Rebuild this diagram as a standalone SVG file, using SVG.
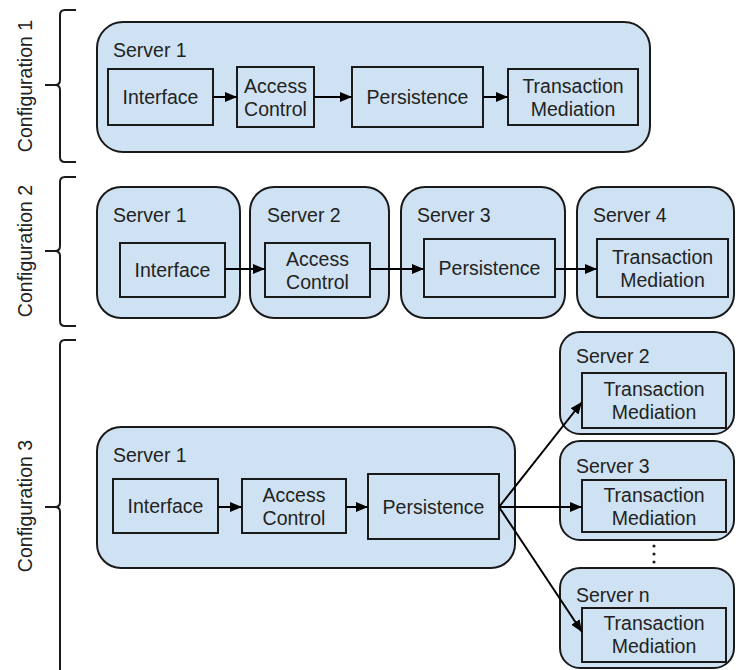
<svg xmlns="http://www.w3.org/2000/svg" width="736" height="670" viewBox="0 0 736 670">
  <style>
    .server { fill: #cfe2f3; stroke: #1a1a1a; stroke-width: 2; }
    .comp { fill: #cfe2f3; stroke: #1a1a1a; stroke-width: 2; }
    .brace { fill: none; stroke: #1a1a1a; stroke-width: 2; }
    .edge { fill: none; stroke: #000; stroke-width: 2; marker-end: url(#arrow); }
    text { font-family: "Liberation Sans", Arial, sans-serif; font-size: 19.5px; fill: #222; }
    .mid { text-anchor: middle; }
  </style>
  <defs>
    <marker id="arrow" markerUnits="userSpaceOnUse" markerWidth="12" markerHeight="10" refX="12" refY="5" orient="auto">
      <path d="M0,0 L12,5 L0,10 z" fill="#000"/>
    </marker>
  </defs>

  <!-- configuration braces and labels -->
  <g id="config1">
    <path class="brace" d="M76,10 H65 Q60,10 60,15 V80 Q60,85 55,85 H45 M55,85 Q60,85 60,90 V157 Q60,162 65,162 H76"/>
    <text class="mid" transform="translate(25,86) rotate(-90)" x="0" y="7">Configuration 1</text>
  </g>
  <g id="config2">
    <path class="brace" d="M76,177 H65 Q60,177 60,182 V246 Q60,251 55,251 H45 M55,251 Q60,251 60,256 V321 Q60,326 65,326 H76"/>
    <text class="mid" transform="translate(25,251) rotate(-90)" x="0" y="7">Configuration 2</text>
  </g>
  <g id="config3">
    <path class="brace" d="M76,340 H65 Q60,340 60,345 V502 Q60,507 55,507 H45 M55,507 Q60,507 60,512 V672"/>
    <text class="mid" transform="translate(25,506) rotate(-90)" x="0" y="7">Configuration 3</text>
  </g>

  <!-- Configuration 1: one server hosting every component -->
  <g id="c1-server1">
    <rect class="server" x="97" y="22" width="553" height="130" rx="26"/>
    <text x="113" y="57">Server 1</text>
  </g>
  <g id="c1-interface">
    <rect class="comp" x="108" y="69" width="105" height="56"/>
    <text class="mid" x="160.5" y="104">Interface</text>
  </g>
  <g id="c1-access">
    <rect class="comp" x="237" y="67" width="77" height="60"/>
    <text class="mid" x="275.5" y="92.5">Access</text>
    <text class="mid" x="275.5" y="115.5">Control</text>
  </g>
  <g id="c1-persistence">
    <rect class="comp" x="352" y="67" width="131" height="60"/>
    <text class="mid" x="417.5" y="104">Persistence</text>
  </g>
  <g id="c1-mediation">
    <rect class="comp" x="508" y="69" width="130" height="56"/>
    <text class="mid" x="573" y="92.5">Transaction</text>
    <text class="mid" x="573" y="115.5">Mediation</text>
  </g>

  <!-- Configuration 2: one server per component -->
  <g id="c2-server1">
    <rect class="server" x="97" y="187" width="143" height="131" rx="24"/>
    <text x="113" y="222">Server 1</text>
    <rect class="comp" x="120" y="243" width="105" height="54"/>
    <text class="mid" x="172.5" y="277">Interface</text>
  </g>
  <g id="c2-server2">
    <rect class="server" x="250" y="187" width="139" height="131" rx="24"/>
    <text x="267" y="222">Server 2</text>
    <rect class="comp" x="265" y="243" width="105" height="54"/>
    <text class="mid" x="317.5" y="265.5">Access</text>
    <text class="mid" x="317.5" y="288.5">Control</text>
  </g>
  <g id="c2-server3">
    <rect class="server" x="401" y="187" width="164" height="131" rx="24"/>
    <text x="417" y="222">Server 3</text>
    <rect class="comp" x="424" y="239" width="131" height="58"/>
    <text class="mid" x="489.5" y="275">Persistence</text>
  </g>
  <g id="c2-server4">
    <rect class="server" x="577" y="187" width="157" height="131" rx="24"/>
    <text x="593" y="222">Server 4</text>
    <rect class="comp" x="597" y="239" width="131" height="58"/>
    <text class="mid" x="662.5" y="263.5">Transaction</text>
    <text class="mid" x="662.5" y="286.5">Mediation</text>
  </g>

  <!-- Configuration 3: front server fanning out to mediation servers -->
  <g id="c3-server1">
    <rect class="server" x="97" y="427" width="418" height="141" rx="24"/>
    <text x="113" y="462">Server 1</text>
  </g>
  <g id="c3-interface">
    <rect class="comp" x="113" y="479" width="105" height="54"/>
    <text class="mid" x="165.5" y="513">Interface</text>
  </g>
  <g id="c3-access">
    <rect class="comp" x="242" y="479" width="104" height="54"/>
    <text class="mid" x="294" y="501.5">Access</text>
    <text class="mid" x="294" y="524.5">Control</text>
  </g>
  <g id="c3-persistence">
    <rect class="comp" x="368" y="474" width="131" height="65"/>
    <text class="mid" x="433.5" y="514">Persistence</text>
  </g>
  <g id="c3-server2">
    <rect class="server" x="560" y="332" width="174" height="102" rx="20"/>
    <text x="576" y="363">Server 2</text>
    <rect class="comp" x="582" y="373" width="144" height="55"/>
    <text class="mid" x="654" y="396">Transaction</text>
    <text class="mid" x="654" y="419">Mediation</text>
  </g>
  <g id="c3-server3">
    <rect class="server" x="560" y="441" width="174" height="99" rx="20"/>
    <text x="576" y="473">Server 3</text>
    <rect class="comp" x="582" y="480" width="144" height="52"/>
    <text class="mid" x="654" y="502">Transaction</text>
    <text class="mid" x="654" y="525">Mediation</text>
  </g>
  <g id="c3-ellipsis">
    <circle cx="654" cy="546" r="1.6" fill="#222"/>
    <circle cx="654" cy="554" r="1.6" fill="#222"/>
    <circle cx="654" cy="562" r="1.6" fill="#222"/>
  </g>
  <g id="c3-servern">
    <rect class="server" x="560" y="568" width="174" height="100" rx="20"/>
    <text x="576" y="602">Server n</text>
    <rect class="comp" x="582" y="608" width="144" height="54"/>
    <text class="mid" x="654" y="630">Transaction</text>
    <text class="mid" x="654" y="653">Mediation</text>
  </g>

  <!-- connectors -->
  <g id="connectors">
    <line class="edge" x1="213" y1="97" x2="237" y2="97"/>
    <line class="edge" x1="314" y1="97" x2="352" y2="97"/>
    <line class="edge" x1="483" y1="97" x2="508" y2="97"/>

    <line class="edge" x1="225" y1="269" x2="265" y2="269"/>
    <line class="edge" x1="370" y1="269" x2="424" y2="269"/>
    <line class="edge" x1="555" y1="269" x2="597" y2="269"/>

    <line class="edge" x1="218" y1="507" x2="242" y2="507"/>
    <line class="edge" x1="346" y1="507" x2="368" y2="507"/>
    <line class="edge" x1="499" y1="507" x2="582" y2="402"/>
    <line class="edge" x1="499" y1="507" x2="582" y2="507"/>
    <line class="edge" x1="499" y1="507" x2="582" y2="632"/>
  </g>
</svg>
